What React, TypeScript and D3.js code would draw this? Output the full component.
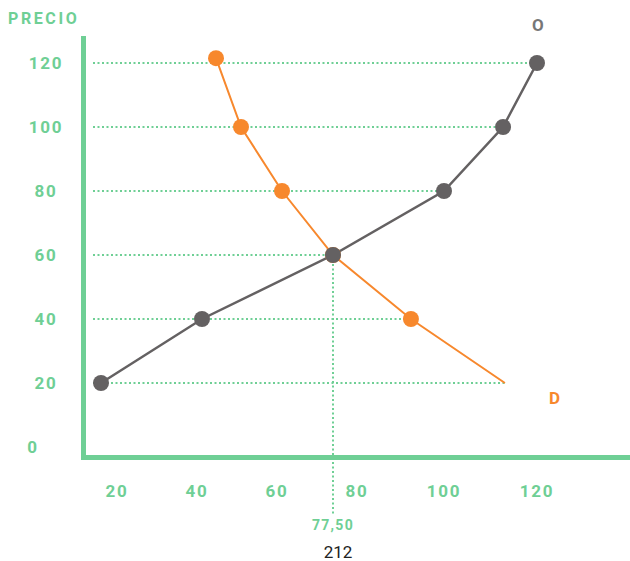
import React from "react";
import * as d3 from "d3";

const xTicks = [20, 40, 60, 80, 100, 120];
const yTicks = [0, 20, 40, 60, 80, 100, 120];
const supplyQ = [16, 41.25, 74, 100, 112.7, 120];
const supplyP = [20, 40, 60, 80, 100, 120];
const demandQ = [44.75, 51, 61.25, 74, 92.4, 113.1];
const demandP = [121.5, 100, 80, 60, 40, 20];
const demandMarked = [true, true, true, true, true, false];
const gridP = [120, 100, 80, 60, 40, 20];
const gridEndQ = [120, 112.7, 100, 74, 92.4, 113.1];
const eqQ = 74;
const eqP = 60;
const eqLabel = "77,50";

const W = 630;
const H = 561;
const GREEN = "#6fcf95";
const ORANGE = "#f7882d";
const GRAY = "#646162";

export default function App() {
  const x = d3.scaleLinear().domain(xTicks).range([117, 197, 277, 357, 444, 537]);
  const y = d3.scaleLinear().domain([0, 120]).range([447, 63]);
  const line = d3
    .line<[number, number]>()
    .x((d) => x(d[0]))
    .y((d) => y(d[1]));
  const supply: [number, number][] = supplyQ.map((q, i) => [q, supplyP[i]]);
  const demand: [number, number][] = demandQ.map((q, i) => [q, demandP[i]]);
  const font = "Roboto, sans-serif";
  return (
    <svg
      width={W}
      height={H}
      style={{ position: "absolute", left: 0, top: 0, background: "#fff" }}
    >
      {gridP.map((p, i) => (
        <line
          key={"g" + i}
          x1={93}
          x2={x(gridEndQ[i])}
          y1={y(p)}
          y2={y(p)}
          stroke={GREEN}
          strokeWidth={2}
          strokeDasharray="2,2.5"
        />
      ))}
      <line
        x1={x(eqQ)}
        x2={x(eqQ)}
        y1={y(eqP)}
        y2={514}
        stroke={GREEN}
        strokeWidth={2}
        strokeDasharray="2,2.5"
      />
      <line x1={83.5} x2={83.5} y1={36} y2={460} stroke={GREEN} strokeWidth={5} />
      <line x1={81} x2={W} y1={457.5} y2={457.5} stroke={GREEN} strokeWidth={5} />
      <path d={line(demand) || ""} fill="none" stroke={ORANGE} strokeWidth={2} />
      <path d={line(supply) || ""} fill="none" stroke={GRAY} strokeWidth={2.5} />
      {demand.map((d, i) =>
        demandMarked[i] ? (
          <circle key={"d" + i} cx={x(d[0])} cy={y(d[1])} r={8} fill={ORANGE} />
        ) : null
      )}
      {supply.map((d, i) => (
        <circle key={"s" + i} cx={x(d[0])} cy={y(d[1])} r={8} fill={GRAY} />
      ))}
      {yTicks.map((t) => (
        <text
          key={"y" + t}
          x={t === 0 ? 33 : 46}
          y={y(t) + 6}
          textAnchor="middle"
          fontFamily={font}
          fontWeight={700}
          fontSize={17}
          letterSpacing={1.8}
          fill={GREEN}
        >
          {t}
        </text>
      ))}
      {xTicks.map((t) => (
        <text
          key={"x" + t}
          x={x(t)}
          y={497}
          textAnchor="middle"
          fontFamily={font}
          fontWeight={700}
          fontSize={17}
          letterSpacing={1.8}
          fill={GREEN}
        >
          {t}
        </text>
      ))}
      <text
        x={x(eqQ)}
        y={530}
        textAnchor="middle"
        fontFamily={font}
        fontWeight={700}
        fontSize={14}
        letterSpacing={1.3}
        fill={GREEN}
      >
        {eqLabel}
      </text>
      <text
        x={8}
        y={24}
        fontFamily={font}
        fontWeight={700}
        fontSize={16}
        letterSpacing={2.6}
        fill={GREEN}
      >
        PRECIO
      </text>
      <text x={532} y={31} fontFamily={font} fontWeight={700} fontSize={17} fill="#777">
        O
      </text>
      <text x={549} y={404} fontFamily={font} fontWeight={700} fontSize={17} fill={ORANGE}>
        D
      </text>
      <text
        x={338}
        y={558}
        textAnchor="middle"
        fontFamily={font}
        fontSize={17}
        fill="#222"
      >
        212
      </text>
    </svg>
  );
}
